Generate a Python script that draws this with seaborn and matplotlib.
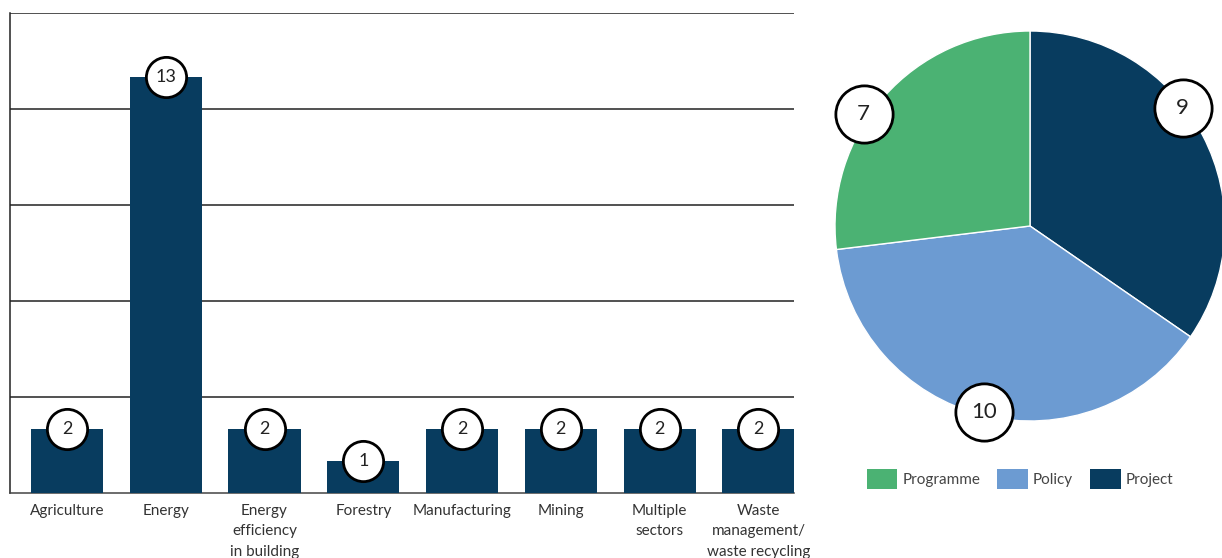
import numpy as np
import pandas as pd
import matplotlib
matplotlib.use("Agg")
import matplotlib.pyplot as plt
from matplotlib.patches import Patch
import seaborn as sns

# ---- data ----
sectors = ["Agriculture", "Energy", "Energy\nefficiency\nin building", "Forestry",
           "Manufacturing", "Mining", "Multiple\nsectors",
           "Waste\nmanagement/\nwaste recycling"]
sector_counts = [2, 13, 2, 1, 2, 2, 2, 2]

types = ["Project", "Policy", "Programme"]
type_counts = [9, 10, 7]
legend_order = ["Programme", "Policy", "Project"]

# ---- style ----
sns.set_theme(style="white")
plt.rcParams["font.family"] = ["Lato", "DejaVu Sans"]
NAVY = "#083c5f"
colors = {"Project": "#083c5f", "Policy": "#6c9bd2", "Programme": "#4bb273"}
TXT = "#333333"

fig = plt.figure(figsize=(12.22, 5.58), dpi=100)

# ---- bar chart ----
ax = fig.add_axes([10 / 1222, 1 - 493 / 558, 784 / 1222, 480 / 558])
df = pd.DataFrame({"sector": sectors, "count": sector_counts})
sns.barplot(data=df, x="sector", y="count", color=NAVY, width=0.73,
            saturation=1, ax=ax, zorder=3, linewidth=0)
ax.set_xlim(-0.577, 7.36)
ax.set_ylim(0, 15)
ax.set_yticks([3, 6, 9, 12, 15])
ax.set_yticklabels([])
ax.yaxis.grid(True, color="#222222", linewidth=1.1, zorder=0)
ax.tick_params(axis="both", length=0)
ax.tick_params(axis="x", pad=8, labelsize=11, labelcolor=TXT)
for lbl in ax.get_xticklabels():
    lbl.set_linespacing(1.58)
ax.set_xlabel("")
ax.set_ylabel("")
for s in ["top", "right"]:
    ax.spines[s].set_visible(False)
ax.spines["left"].set_color("#222222")
ax.spines["left"].set_linewidth(1.1)
ax.spines["bottom"].set_color("#444444")
ax.spines["bottom"].set_linewidth(1.1)

xs = np.arange(len(sectors))
ax.scatter(xs, sector_counts, s=840, facecolor="white", edgecolor="black",
           linewidth=2, zorder=5, clip_on=False)
for x, v in zip(xs, sector_counts):
    ax.text(x, v, str(v), ha="center", va="center", fontsize=13,
            color="#222222", zorder=6)

# ---- pie chart ----
pax = fig.add_axes([835 / 1222, 1 - 421 / 558, 390 / 1222, 390 / 558])
wedges, _ = pax.pie(type_counts, colors=[colors[t] for t in types],
                    startangle=90, counterclock=False, radius=1.0)
pax.set_aspect("equal")
pax.set_xlim(-1, 1)
pax.set_ylim(-1, 1)

label_angle_offset = {"Project": 10, "Policy": 0, "Programme": 7.5}
label_radius = {"Project": 0.99, "Policy": 0.98, "Programme": 1.03}
for w, t, v in zip(wedges, types, type_counts):
    ang = np.deg2rad((w.theta1 + w.theta2) / 2 + label_angle_offset[t])
    r = label_radius[t]
    px, py = r * np.cos(ang), r * np.sin(ang)
    pax.scatter([px], [py], s=1700, facecolor="white", edgecolor="black",
                linewidth=2, zorder=5, clip_on=False)
    pax.text(px, py, str(v), ha="center", va="center", fontsize=16,
             color="#222222", zorder=6)

handles = [Patch(facecolor=colors[t], edgecolor="none", label=t) for t in legend_order]
fig.legend(handles=handles, loc="center", bbox_to_anchor=(1020 / 1222, 1 - 479 / 558),
           ncol=3, frameon=False, fontsize=11, labelcolor="#444444",
           handlelength=2.0, handleheight=1.6, handletextpad=0.35,
           columnspacing=1.1)

fig.savefig("out.png", dpi=100)
